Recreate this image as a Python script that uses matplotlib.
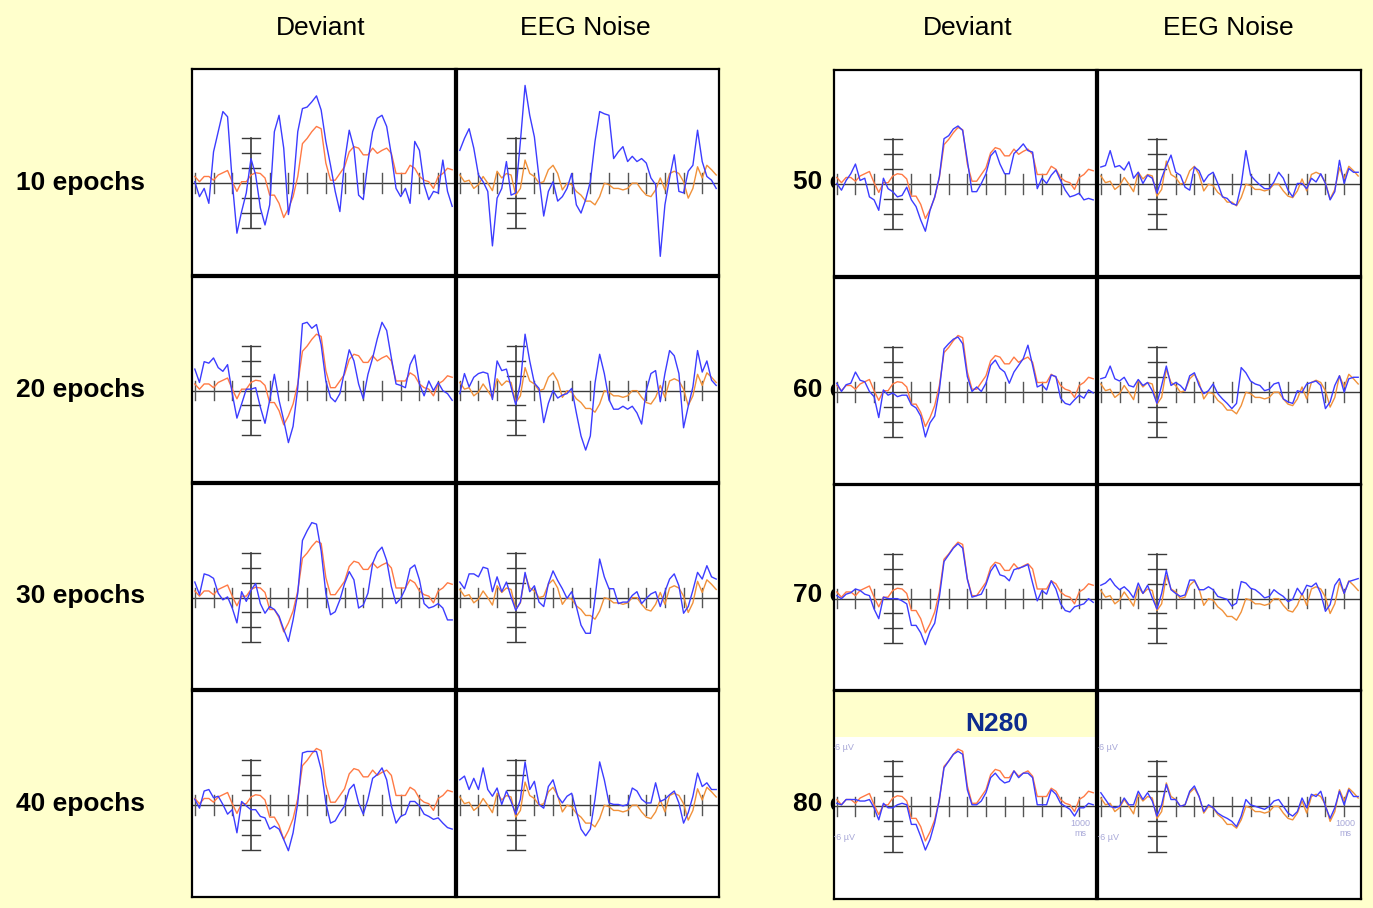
import numpy as np
import matplotlib.pyplot as plt
from matplotlib.patches import Rectangle

plt.rcParams['font.family'] = ['Liberation Sans', 'DejaVu Sans']

W, H = 1373, 908
t = np.arange(-300, 1076, 25)   # ms, one value every 25 ms

# grand averages (orange), same in every panel of a column type
orange_deviant = [0.9, 0.2, 0.9, 0.9, 0.4, 1.1, 1.4, 1.7,
                  0.2, -1.1, 0.2, 0.2, 1.1, 1.4, 1.3, 0.7,
                  -1.6, -1.6, -2.7, -4.6, -3.4, -1.8, 0.9, 5.3,
                  6.0, 6.9, 7.6, 7.3, 2.7, 0.4, 0.4, 1.3,
                  2.2, 4.2, 4.9, 4.7, 3.8, 3.8, 4.7, 4.0,
                  4.4, 4.7, 4.0, 1.3, 1.3, 1.3, 2.4, 2.0,
                  0.9, 0.4, 0.2, -0.7, 0.9, 1.3, 2.0, 1.8]
orange_noise = [1.1, 0.2, 0.4, -0.7, -0.2, 0.9, 0.0, -1.0,
                1.6, 0.7, 1.3, 1.1, -1.6, -0.7, 3.1, 1.3,
                0.9, 0.0, 0.2, 1.8, 2.4, 1.3, -0.9, 0.0,
                -0.2, -1.1, -1.6, -2.4, -2.4, -2.9, -1.8, 0.0,
                -0.2, -0.7, -0.7, -0.9, -0.7, 0.0, 0.0, -0.9,
                -1.6, -1.8, -0.9, 0.7, -0.9, 1.3, 1.6, 1.3,
                0.2, -2.0, -0.7, 2.2, 0.7, 2.4, 1.8, 1.1]

# sub-averages (blue)
dev_10 = [0.2, -1.8, -0.7, -2.7, 4.2, 6.9, 9.6, 8.9,
          0.2, -6.7, -3.8, -1.3, 3.3, 1.1, -3.3, -5.6,
          -2.9, 6.9, 9.1, 4.7, -4.2, -0.7, 6.9, 10.0,
          10.2, 10.9, 11.7, 9.8, 5.6, 2.4, -1.1, -3.8,
          2.9, 7.1, 4.7, -1.6, -2.2, 2.9, 6.9, 8.7,
          9.1, 7.6, 3.8, -0.7, -1.8, -0.7, -2.7, 5.6,
          4.4, -0.2, -2.2, -1.1, -1.3, 3.1, -1.1, -3.1]
noise_10 = [4.4, 6.0, 7.3, 4.7, 1.1, 0.2, -1.1, -8.4,
            -2.0, -0.7, 2.9, -1.6, -1.3, 5.6, 13.1, 9.1,
            6.2, 0.7, -4.4, -1.1, 0.2, -2.4, -1.8, -0.7,
            1.3, -2.9, -4.0, -2.2, 0.2, 5.6, 9.6, 9.3,
            9.1, 3.3, 4.2, 4.9, 2.9, 3.6, 2.9, 3.3,
            2.7, 0.7, -0.2, -9.8, -2.9, 0.7, 3.8, -1.1,
            -1.3, 1.6, 2.4, 7.1, 2.9, 0.9, 0.4, -0.7]
dev_20 = [2.9, 1.1, 3.9, 3.7, 4.4, 3.1, 2.6, 3.5,
          -0.4, -3.7, -1.8, 0.2, 0.2, 0.4, -2.2, -4.4,
          -1.3, 2.2, -1.3, -4.0, -7.0, -4.8, 0.4, 9.0,
          9.2, 8.4, 8.9, 6.2, 1.3, -0.9, -1.5, -0.4,
          2.6, 5.5, 4.0, 0.9, -1.1, 2.2, 4.4, 7.0,
          9.2, 8.1, 4.4, 0.9, 0.7, 0.4, 3.5, 4.8,
          0.9, -0.7, 1.3, 0.0, 1.1, 0.0, -0.4, -1.3]
noise_20 = [-0.4, 2.3, 0.5, 1.8, 2.3, 2.5, 2.3, -1.2,
            4.0, 2.7, 2.9, 0.5, -1.9, 1.0, 7.6, 4.0,
            1.0, 0.3, -4.3, -1.7, 0.0, -1.0, -0.6, -0.4,
            0.3, -3.0, -6.1, -8.0, -6.1, 1.0, 4.9, 2.3,
            -1.2, -2.5, -2.5, -2.1, -2.5, -2.1, -3.0, -4.5,
            0.0, 2.3, 2.7, -1.5, 2.3, 5.4, 4.7, 2.3,
            -5.0, -2.1, 0.5, 5.4, 2.5, 4.0, 1.4, 0.7]
dev_30 = [2.1, 0.4, 3.2, 3.0, 2.6, 0.6, -0.3, 0.1,
          -1.4, -3.4, 0.8, -0.5, 1.0, 1.9, -0.8, -2.1,
          -1.2, -1.6, -2.5, -4.3, -5.9, -3.0, 0.6, 7.7,
          9.0, 10.1, 9.9, 6.3, 0.6, -2.3, -1.9, -0.3,
          1.9, 3.5, 2.4, -1.4, -1.0, 0.6, 4.6, 6.1,
          6.8, 5.0, 1.5, -0.8, -0.1, 1.2, 3.9, 4.4,
          2.4, -0.8, -1.4, -1.2, -0.8, -1.4, -3.0, -3.0]
noise_30 = [2.1, 1.2, 3.2, 3.2, 2.8, 4.1, 3.9, 0.8,
            2.8, 0.8, 2.1, 0.1, -1.7, -0.6, 3.4, 0.8,
            1.6, -0.6, -1.2, 1.9, 3.6, 2.3, 1.2, -0.1,
            0.8, -1.2, -3.7, -4.8, -4.8, -0.1, 5.2, 2.8,
            1.2, 1.2, -0.8, -0.6, -0.6, 0.3, 0.8, -0.8,
            -0.1, 0.5, 0.8, -1.2, 0.8, 2.5, 3.2, 1.6,
            -2.1, -1.2, 1.0, 3.4, 2.5, 4.3, 2.8, 2.5]
dev_40 = [0.8, -0.4, 1.9, 2.1, 1.0, 1.2, 0.1, -1.2,
          -0.6, -3.7, 0.5, -0.1, -0.6, -0.6, -1.5, -1.7,
          -3.2, -2.8, -3.2, -4.6, -6.1, -3.7, 0.3, 7.0,
          7.2, 7.2, 7.2, 4.8, 0.3, -2.4, -2.1, -1.0,
          -0.1, 2.1, 2.8, 0.3, -1.2, 0.8, 3.6, 4.1,
          5.0, 3.4, -0.1, -2.4, -1.5, -1.2, 0.5, 0.5,
          -0.1, -1.2, -1.5, -1.9, -1.7, -2.4, -3.0, -3.2]
noise_40 = [3.4, 3.9, 2.1, 3.6, 2.1, 5.0, 2.1, 1.2,
            2.3, 0.1, 1.9, 0.5, -1.2, 0.8, 5.8, 2.1,
            3.2, 0.1, -0.4, 2.5, 3.4, 1.2, 0.3, 1.2,
            1.6, -0.8, -3.2, -4.1, -3.2, 0.8, 5.8, 3.4,
            0.3, 0.1, 0.1, -0.1, 0.1, 2.3, 1.9, 0.8,
            0.3, 0.3, 3.0, 0.5, 0.8, 1.4, 1.9, 0.3,
            -2.4, -1.0, 1.2, 4.3, 2.5, 3.0, 2.1, 2.1]
dev_50 = [0.1, -0.8, 0.5, 1.4, 2.7, 0.5, 0.8, -1.7,
          -2.1, -3.5, 0.8, -0.6, -1.0, -1.7, -1.5, -0.4,
          -2.1, -3.0, -4.8, -6.3, -3.5, -1.7, 1.0, 6.1,
          6.5, 7.4, 7.8, 7.2, 3.2, -1.0, -1.0, 0.1,
          1.4, 3.8, 4.5, 2.7, 1.4, 1.4, 4.1, 4.7,
          5.4, 4.5, 4.3, -0.6, 0.8, 0.1, 1.2, 1.9,
          0.5, -0.8, -1.7, -1.5, -1.2, -2.1, -1.9, -2.1]
noise_50 = [2.3, 2.5, 4.5, 2.3, 2.5, 1.9, 3.0, 0.8,
            1.6, 0.1, 1.2, 0.8, -1.2, 0.8, 2.5, 3.9,
            1.6, 1.2, -0.4, -0.8, 2.3, 1.8, 0.3, 1.2,
            1.6, 0.1, -1.7, -1.9, -2.6, -2.8, -0.1, 4.5,
            1.2, 0.5, -0.1, -0.6, -0.6, 0.3, 1.6, 0.8,
            -0.8, -1.7, 0.1, 0.1, -0.6, 0.8, 0.3, 1.4,
            0.1, -2.1, -1.0, 3.2, 0.1, 2.1, 1.6, 1.6]
dev_60 = [1.2, 0.1, 1.0, 1.2, 2.7, 1.6, 1.4, 0.1,
          -0.6, -3.4, 0.3, -0.4, -0.1, -0.6, -0.4, -0.4,
          -1.7, -2.1, -3.2, -6.0, -4.1, -3.2, 0.3, 5.8,
          6.5, 7.1, 7.4, 6.5, 2.1, 0.1, 0.7, 0.1,
          1.2, 3.6, 4.3, 3.2, 2.7, 1.2, 2.7, 3.6,
          4.5, 6.3, 3.6, 0.7, 1.0, 0.3, 2.3, 2.1,
          -0.8, -1.5, -1.7, -1.0, -0.4, -0.8, 0.3, -0.1]
noise_60 = [1.8, 2.0, 3.5, 1.8, 1.5, 2.0, 0.9, 0.7,
            1.7, 0.9, 1.3, 0.2, -1.5, 0.9, 3.5, 0.9,
            1.3, 0.9, 0.2, 2.2, 2.6, 0.9, -0.2, 0.2,
            1.1, -0.2, -0.9, -1.5, -2.2, -1.5, 3.3, 2.6,
            1.5, 1.1, 0.9, 0.2, 0.4, 1.1, 1.3, -0.9,
            -1.3, -1.5, 0.2, 0.0, 1.1, 1.3, 1.5, 0.9,
            -2.2, -1.3, 0.9, 2.2, 0.0, 1.8, 2.0, 2.0]
dev_70 = [0.4, 0.0, 0.6, 0.8, 1.3, 1.1, 0.6, 0.4,
          -1.4, -2.7, 0.2, 0.0, 0.0, 0.0, -0.3, -0.7,
          -3.6, -3.6, -4.6, -6.2, -4.4, -3.3, 0.2, 5.0,
          5.9, 6.8, 7.4, 6.8, 2.6, 0.2, 0.4, 0.6,
          1.9, 3.7, 4.6, 3.2, 3.0, 2.4, 3.9, 4.1,
          4.3, 4.6, 2.1, -0.3, 1.1, 0.6, 2.4, 1.3,
          -0.7, -1.6, -1.8, -1.1, -0.9, -0.7, 0.0, -0.5]
noise_70 = [1.8, 2.1, 2.7, 1.8, 1.2, 1.6, 1.0, 0.1,
            2.1, 0.7, 1.8, 0.1, -1.4, 0.7, 3.8, 1.2,
            0.7, 0.3, 0.5, 2.5, 2.5, 1.2, 1.2, 1.6,
            1.2, 0.3, 0.1, -0.1, -1.0, -0.6, 2.3, 2.1,
            1.4, 1.2, 0.7, 0.1, 0.3, 1.2, 0.7, 0.3,
            -0.4, -0.1, 1.4, 0.5, 1.8, 1.6, 2.1, 0.7,
            -1.7, -0.8, 1.8, 2.7, 0.7, 2.3, 2.5, 2.7]
dev_80 = [0.4, 0.2, 0.9, 0.9, 0.9, 0.7, 0.7, 0.9,
          -0.2, -1.8, 0.4, -0.2, -0.2, 0.2, 0.4, 0.2,
          -2.4, -2.4, -4.0, -5.8, -4.4, -2.2, 0.9, 5.1,
          6.0, 6.9, 7.3, 6.9, 2.2, 0.2, 0.2, 0.7,
          1.8, 3.8, 4.4, 3.6, 3.1, 3.3, 4.7, 3.8,
          4.4, 4.4, 3.8, 0.2, 0.2, 0.2, 2.2, 1.6,
          0.4, 0.0, -0.4, -1.3, -0.2, -0.2, 0.4, 0.2]
noise_80 = [1.8, 0.9, 0.0, -0.2, 0.0, 1.1, 0.2, 0.2,
            2.0, 0.9, 1.8, 0.7, -1.3, 0.2, 2.9, 0.9,
            0.9, 0.0, 0.2, 2.0, 2.7, 1.3, -0.7, 0.2,
            -0.2, -0.9, -1.3, -1.6, -2.0, -2.7, -1.3, 0.9,
            0.2, 0.0, -0.2, -0.4, 0.0, 0.7, 0.9, 0.0,
            -0.9, -1.3, -0.7, 1.1, -0.2, 1.6, 1.3, 2.0,
            0.0, -1.6, -0.2, 2.0, 0.2, 2.2, 1.3, 1.3]

epochs = [10, 20, 30, 40, 50, 60, 70, 80]
deviant = [dev_10, dev_20, dev_30, dev_40, dev_50, dev_60, dev_70, dev_80]
noise = [noise_10, noise_20, noise_30, noise_40, noise_50, noise_60, noise_70, noise_80]

BG = '#FFFFCC'
BLUE = '#3c3cff'
OR_DEV = '#ff7a45'
OR_NOISE = '#f0913a'
AXC = '#3a3a3a'
LAB = '#a8a8d8'

fig = plt.figure(figsize=(W / 100, H / 100), dpi=100, facecolor=BG)


def px_rect(x0, y0, x1, y1):
    return [x0 / W, 1 - y1 / H, (x1 - x0) / W, (y1 - y0) / H]


def fx(x):
    return x / W


def fy(y):
    return 1 - y / H


def draw_panel(rect, blue, orange, ocol):
    ax = fig.add_axes(px_rect(*rect))
    ax.set_facecolor('white')
    ax.set_xlim(-315, 1090)
    ax.set_ylim(-12.3, 15.3)
    ax.set_xticks([])
    ax.set_yticks([])
    for s in ax.spines.values():
        s.set_linewidth(1.6)
        s.set_color('black')
    ax.axhline(0, color=AXC, lw=1.0)
    for tk in range(-300, 1001, 100):
        if tk != 0:
            ax.plot([tk, tk], [-1.3, 1.3], color='#555555', lw=1.0)
    ax.plot([0, 0], [-6, 6], color=AXC, lw=1.2)
    for v in (-6, -4, -2, 2, 4, 6):
        ax.plot([-48, 48], [v, v], color=AXC, lw=1.0)
    ax.plot(t, orange, color=ocol, lw=1.0)
    ax.plot(t, blue, color=BLUE, lw=1.0)
    return ax


left_cols = [(192, 455), (457, 719)]
left_rows = [(69, 275), (277, 482), (484, 689), (691, 897)]
right_cols = [(834, 1096), (1098, 1361)]
right_rows = [(70, 276), (278, 484), (485, 690), (691, 899)]

axes = {}
for i, ep in enumerate(epochs):
    if i < 4:
        cols, (y0, y1) = left_cols, left_rows[i]
    else:
        cols, (y0, y1) = right_cols, right_rows[i - 4]
    axes[(ep, 'dev')] = draw_panel((cols[0][0], y0, cols[0][1], y1), deviant[i], orange_deviant, OR_DEV)
    axes[(ep, 'noise')] = draw_panel((cols[1][0], y0, cols[1][1], y1), noise[i], orange_noise, OR_NOISE)

# column headers
for x, s in [(321, 'Deviant'), (585, 'EEG Noise'), (968, 'Deviant'), (1228, 'EEG Noise')]:
    fig.text(fx(x), fy(28), s, fontsize=19, ha='center', va='center')

# row labels (right ones run under the panels)
for y, ep in zip([183, 390, 596, 804], epochs[:4]):
    fig.text(fx(81), fy(y), f'{ep} epochs', fontsize=19, fontweight='bold',
             ha='center', va='center')
for y, ep in zip([182, 390, 595, 804], epochs[4:]):
    fig.text(fx(793), fy(y), f'{ep} epochs', fontsize=19, fontweight='bold',
             ha='left', va='center', zorder=-1)

# N280 label band on the 80-epoch deviant panel
ax80 = axes[(80, 'dev')]
ax80.add_patch(Rectangle((0, (899 - 737) / 208), 1, 1, transform=ax80.transAxes,
                         facecolor=BG, edgecolor='none', zorder=0.5))
fig.text(fx(997), fy(724), 'N280', fontsize=19, fontweight='bold',
         color='#0d2b8e', ha='center', va='center', zorder=5)


# faint scale annotations in the last row
def faint(ax, x, y, s, ha='left'):
    txt = ax.text(fx(x), fy(y), s, transform=fig.transFigure, fontsize=6.5,
                  color=LAB, ha=ha, va='center', clip_on=True)
    txt.set_clip_box(ax.bbox)


for ax, xl, xr in [(axes[(80, 'dev')], 832, 1080), (axes[(80, 'noise')], 1096, 1345)]:
    faint(ax, xl, 748, '-6 µV')
    faint(ax, xl - 1, 838, '+6 µV')
    faint(ax, xr, 824, '1000', ha='center')
    faint(ax, xr, 834, 'ms', ha='center')

fig.savefig('out.png', dpi=100, facecolor=BG)
